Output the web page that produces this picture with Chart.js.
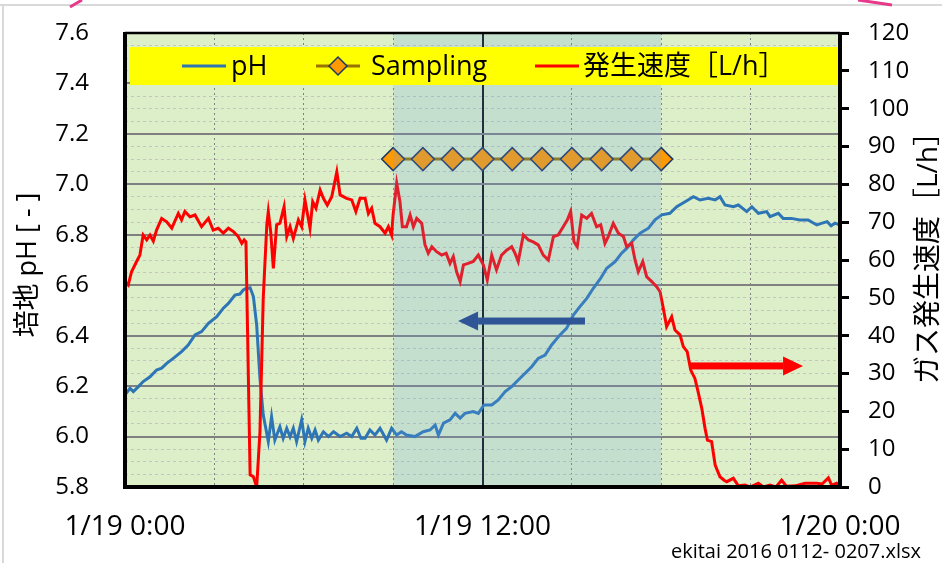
<!DOCTYPE html>
<html>
<head>
<meta charset="utf-8">
<script src="https://cdn.jsdelivr.net/npm/chart.js@4.4.1/dist/chart.umd.min.js"></script>
<style>
  html, body { margin: 0; padding: 0; background: #fff; }
  #wrap { width: 942px; height: 563px; position: relative; }
</style>
</head>
<body>
<div id="wrap"><canvas id="chart"></canvas></div>
<script>
// time axis in hours from 1/19 0:00
const xTickHours = [0, 12, 24];
const xTickLabels = ["1/19 0:00", "1/19 12:00", "1/20 0:00"];

// pH (left axis)
const phHours = [0.00, 0.17, 0.28, 0.45, 0.61, 0.84, 1.06, 1.23, 1.40, 1.62, 1.90, 2.12, 2.35, 2.57, 2.80, 3.08, 3.30, 3.47, 3.69, 3.86, 3.97, 4.03, 4.20, 4.31, 4.42, 4.53, 4.64, 4.81, 4.92, 5.03, 5.20, 5.31, 5.43, 5.54, 5.65, 5.76, 5.93, 6.04, 6.15, 6.27, 6.38, 6.49, 6.66, 6.83, 7.00, 7.22, 7.44, 7.61, 7.78, 7.92, 8.06, 8.22, 8.39, 8.56, 8.78, 8.95, 9.12, 9.28, 9.45, 9.73, 10.01, 10.24, 10.41, 10.52, 10.69, 10.91, 11.08, 11.25, 11.41, 11.69, 11.86, 12.05, 12.31, 12.53, 12.76, 12.98, 13.20, 13.43, 13.65, 13.87, 14.10, 14.32, 14.60, 14.82, 15.05, 15.27, 15.50, 15.72, 15.95, 16.17, 16.45, 16.67, 16.84, 17.06, 17.29, 17.57, 17.79, 18.02, 18.29, 18.52, 18.80, 19.08, 19.30, 19.58, 19.81, 19.97, 20.14, 20.42, 20.59, 20.87, 21.04, 21.26, 21.54, 21.65, 21.93, 22.09, 22.37, 22.65, 22.93, 23.22, 23.40, 23.57, 23.70, 23.83, 23.98];
const phValues = [6.165, 6.191, 6.178, 6.198, 6.218, 6.237, 6.264, 6.271, 6.290, 6.310, 6.337, 6.363, 6.403, 6.416, 6.449, 6.475, 6.509, 6.528, 6.561, 6.565, 6.581, 6.585, 6.590, 6.555, 6.442, 6.231, 6.086, 5.980, 6.079, 5.986, 6.039, 5.993, 6.033, 5.999, 6.033, 5.980, 6.066, 5.980, 6.033, 5.993, 6.026, 5.986, 6.019, 6.000, 6.019, 6.000, 6.013, 6.000, 6.033, 5.993, 5.993, 6.026, 6.006, 6.033, 5.986, 6.033, 6.006, 6.019, 6.006, 6.000, 6.019, 6.026, 6.046, 6.006, 6.053, 6.066, 6.092, 6.073, 6.092, 6.099, 6.092, 6.125, 6.125, 6.145, 6.178, 6.198, 6.224, 6.251, 6.277, 6.310, 6.323, 6.363, 6.403, 6.429, 6.482, 6.515, 6.548, 6.588, 6.625, 6.667, 6.693, 6.727, 6.746, 6.779, 6.806, 6.826, 6.859, 6.879, 6.885, 6.911, 6.931, 6.951, 6.938, 6.945, 6.938, 6.951, 6.918, 6.911, 6.918, 6.892, 6.911, 6.885, 6.892, 6.872, 6.885, 6.865, 6.865, 6.859, 6.859, 6.839, 6.846, 6.852, 6.836, 6.846, 6.839];

// gas generation rate L/h (right axis)
const rateHours = [0.00, 0.11, 0.22, 0.39, 0.50, 0.61, 0.73, 0.84, 0.95, 1.06, 1.23, 1.40, 1.57, 1.79, 1.90, 2.01, 2.18, 2.35, 2.57, 2.80, 2.96, 3.13, 3.30, 3.47, 3.64, 3.80, 3.92, 4.00, 4.06, 4.20, 4.31, 4.42, 4.53, 4.64, 4.76, 4.81, 4.89, 4.98, 5.09, 5.20, 5.34, 5.43, 5.54, 5.65, 5.82, 5.93, 6.04, 6.21, 6.30, 6.41, 6.55, 6.66, 6.79, 6.94, 7.11, 7.22, 7.44, 7.61, 7.75, 7.89, 8.06, 8.17, 8.28, 8.39, 8.56, 8.73, 8.84, 8.95, 9.00, 9.12, 9.23, 9.31, 9.45, 9.57, 9.68, 9.79, 9.96, 10.07, 10.18, 10.30, 10.46, 10.63, 10.78, 10.91, 11.02, 11.13, 11.25, 11.36, 11.52, 11.69, 11.86, 11.97, 12.03, 12.16, 12.31, 12.47, 12.64, 12.81, 12.98, 13.09, 13.20, 13.37, 13.54, 13.70, 13.87, 14.04, 14.21, 14.38, 14.54, 14.71, 14.85, 14.96, 15.07, 15.18, 15.33, 15.50, 15.66, 15.83, 15.97, 16.11, 16.22, 16.39, 16.56, 16.73, 16.84, 17.01, 17.12, 17.23, 17.38, 17.51, 17.68, 17.85, 17.96, 18.07, 18.18, 18.35, 18.46, 18.63, 18.74, 18.87, 18.99, 19.13, 19.24, 19.36, 19.47, 19.55, 19.69, 19.81, 19.97, 20.11, 20.20, 20.42, 20.59, 20.81, 20.98, 21.26, 21.43, 21.65, 21.85, 22.04, 22.20, 22.49, 22.83, 23.22, 23.40, 23.61, 23.72, 23.89, 23.98];
const rateValues = [54.3, 53.4, 56.9, 59.6, 61.3, 66.6, 65.3, 66.6, 65.0, 67.9, 71.0, 70.1, 68.4, 72.3, 70.6, 72.8, 71.4, 71.9, 68.8, 71.0, 67.9, 68.4, 67.1, 68.4, 67.5, 66.2, 64.4, 65.3, 64.8, 3.2, 2.7, 0.0, 14.6, 49.9, 69.3, 72.8, 67.5, 57.8, 69.3, 69.7, 74.1, 66.2, 68.8, 65.7, 70.6, 68.8, 75.9, 68.4, 75.4, 73.7, 78.5, 76.3, 74.5, 76.7, 83.3, 77.2, 76.3, 75.9, 72.8, 76.3, 76.3, 72.3, 73.7, 69.7, 68.8, 67.1, 68.8, 66.6, 71.9, 80.3, 75.4, 68.8, 68.8, 71.9, 68.8, 71.0, 69.7, 64.0, 61.8, 63.5, 62.2, 61.3, 61.8, 59.1, 60.9, 56.9, 54.3, 58.7, 59.1, 59.6, 61.3, 59.6, 58.7, 54.7, 61.3, 57.4, 61.3, 62.6, 63.5, 61.8, 59.6, 66.6, 65.3, 64.8, 64.0, 61.3, 60.0, 66.2, 66.6, 68.8, 70.6, 72.8, 64.8, 63.5, 71.9, 71.0, 72.3, 68.8, 69.3, 64.4, 66.2, 69.7, 67.1, 66.2, 63.5, 64.4, 60.0, 56.9, 59.6, 55.6, 54.3, 52.9, 51.6, 47.2, 42.4, 45.0, 41.5, 40.2, 37.1, 35.8, 30.9, 28.7, 25.1, 20.8, 15.5, 12.4, 12.0, 5.8, 2.7, 1.8, 1.4, 2.3, 0.3, 0.5, 0.0, 1.0, 0.0, 0.5, 0.0, 1.8, 0.2, 0.3, 1.0, 1.0, 0.8, 2.4, 0.5, 1.0, 0.5];

// sampling times (plotted on pH axis)
const samplingHours = [9, 10, 11, 12, 13, 14, 15, 16, 17, 18];
const samplingValues = [7.1, 7.1, 7.1, 7.1, 7.1, 7.1, 7.1, 7.1, 7.1, 7.1];

const seriesLabels = ["pH", "Sampling", "発生速度［L/h］"];

const FONT = "'Open Sans', 'Noto Sans CJK JP', sans-serif";
Chart.defaults.font.family = FONT;
Chart.defaults.color = "#000";

const toPoints = (xs, ys) => xs.map((x, i) => ({ x: x, y: ys[i] }));
const isMajorPh = (v) => Math.round(v * 100) % 20 === 0;

// keep axis label overhang from pushing the plot area around
const fixWidth = (w) => (s) => {
  s.width = w;
  s.paddingTop = 0;
  s.paddingBottom = 0;
};

// background, shading, frame, arrows, legend and titles
const decor = {
  id: "decor",
  beforeDraw(chart) {
    const { ctx, chartArea: a } = chart;
    ctx.save();
    ctx.fillStyle = "#fff";
    ctx.fillRect(0, 0, chart.width, chart.height);
    ctx.strokeStyle = "#d9d9d9";
    ctx.lineWidth = 2;
    ctx.beginPath();
    ctx.moveTo(0, 5); ctx.lineTo(chart.width, 5);
    ctx.moveTo(3, 5); ctx.lineTo(3, chart.height);
    ctx.stroke();
    ctx.strokeStyle = "#e8388a";
    ctx.lineWidth = 3;
    ctx.beginPath();
    ctx.moveTo(70, 7); ctx.lineTo(82, 0);
    ctx.moveTo(858, 0); ctx.lineTo(892, 5);
    ctx.stroke();
    ctx.fillStyle = "#dcefc8";
    ctx.fillRect(a.left, a.top, a.right - a.left, a.bottom - a.top);
    ctx.restore();
  },
  afterDatasetsDraw(chart) {
    const { ctx, chartArea: a, scales } = chart;
    const x = scales.x, y = scales.y, y2 = scales.y2;
    ctx.save();
    // sampling period shading
    const sx0 = x.getPixelForValue(samplingHours[0]);
    const sx1 = x.getPixelForValue(samplingHours[samplingHours.length - 1]);
    ctx.fillStyle = "rgba(100,160,225,0.2)";
    ctx.fillRect(sx0, a.top, sx1 - sx0, a.bottom - a.top);

    // plot frame
    ctx.strokeStyle = "#000";
    ctx.lineWidth = 2.5;
    ctx.beginPath();
    ctx.moveTo(a.left, a.top); ctx.lineTo(a.right, a.top);
    ctx.stroke();
    ctx.lineWidth = 4;
    ctx.beginPath();
    ctx.moveTo(a.left, a.top - 1); ctx.lineTo(a.left, a.bottom + 2);
    ctx.moveTo(a.left - 2, a.bottom); ctx.lineTo(a.right + 2, a.bottom);
    ctx.moveTo(a.right, a.top - 1); ctx.lineTo(a.right, a.bottom + 2);
    ctx.stroke();

    // arrows pointing to each axis
    const arrow = (xFrom, xTo, yy, color) => {
      const dir = Math.sign(xTo - xFrom);
      const head = 20, half = 9.5;
      ctx.fillStyle = color;
      ctx.fillRect(Math.min(xFrom, xTo - dir * head), yy - 3.5, Math.abs(xTo - dir * head - xFrom), 7);
      ctx.beginPath();
      ctx.moveTo(xTo, yy);
      ctx.lineTo(xTo - dir * head, yy - half);
      ctx.lineTo(xTo - dir * head, yy + half);
      ctx.closePath();
      ctx.fill();
    };
    arrow(x.getPixelForValue(15.44), x.getPixelForValue(11.18), y.getPixelForValue(6.458), "#2f5597");
    arrow(x.getPixelForValue(18.97), x.getPixelForValue(22.76), y2.getPixelForValue(32), "#ff0000");
    ctx.restore();
  },
  afterDraw(chart) {
    const { ctx } = chart;
    const ds = chart.data.datasets;
    ctx.save();
    // legend
    ctx.fillStyle = "#ffff00";
    ctx.fillRect(130, 47, 708, 38);
    const ly = 66;
    const items = [
      { x: 182, tx: 231, ds: ds[0] },
      { x: 316, tx: 371, ds: ds[1], marker: true },
      { x: 535, tx: 583, ds: ds[2] },
    ];
    ctx.font = "27px " + FONT;
    ctx.textBaseline = "middle";
    ctx.textAlign = "left";
    items.forEach((it) => {
      ctx.strokeStyle = it.ds.borderColor;
      ctx.lineWidth = 3;
      ctx.beginPath();
      ctx.moveTo(it.x, ly); ctx.lineTo(it.x + 44, ly);
      ctx.stroke();
      if (it.marker) {
        const cx = it.x + 22, r = 9;
        ctx.fillStyle = it.ds.pointBackgroundColor;
        ctx.strokeStyle = it.ds.pointBorderColor;
        ctx.lineWidth = 1.5;
        ctx.beginPath();
        ctx.moveTo(cx - r, ly); ctx.lineTo(cx, ly - r); ctx.lineTo(cx + r, ly); ctx.lineTo(cx, ly + r);
        ctx.closePath();
        ctx.fill(); ctx.stroke();
      }
      ctx.fillStyle = "#000";
      ctx.fillText(it.ds.label, it.tx, ly + 1);
    });

    // axis titles
    ctx.textAlign = "center";
    ctx.font = "27px " + FONT;
    ctx.save();
    ctx.translate(28, 265);
    ctx.rotate(-Math.PI / 2);
    ctx.fillText("培地 pH [ - ]", 0, 0);
    ctx.restore();
    ctx.font = "28px " + FONT;
    ctx.save();
    ctx.translate(929, 251);
    ctx.rotate(-Math.PI / 2);
    ctx.fillText("ガス発生速度［L/h］", 0, 0);
    ctx.restore();

    // file name
    ctx.font = "20px " + FONT;
    ctx.textAlign = "right";
    ctx.textBaseline = "alphabetic";
    ctx.fillText("ekitai 2016 0112- 0207.xlsx", 921, 558);
    ctx.restore();
  },
};

new Chart(document.getElementById("chart"), {
  type: "line",
  data: {
    datasets: [
      {
        label: seriesLabels[0],
        data: toPoints(phHours, phValues),
        yAxisID: "y",
        borderColor: "#2e75b6",
        borderWidth: 3,
        pointRadius: 0,
        order: 2,
      },
      {
        label: seriesLabels[1],
        data: toPoints(samplingHours, samplingValues),
        yAxisID: "y",
        borderColor: "#997300",
        borderWidth: 3,
        pointStyle: "rectRot",
        pointRadius: 11.5,
        pointBackgroundColor: "#ff9900",
        pointBorderColor: "#203864",
        pointBorderWidth: 1.5,
        order: 0,
      },
      {
        label: seriesLabels[2],
        data: toPoints(rateHours, rateValues),
        yAxisID: "y2",
        borderColor: "#ff0000",
        borderWidth: 3,
        pointRadius: 0,
        order: 1,
      },
    ],
  },
  options: {
    responsive: true,
    maintainAspectRatio: false,
    animation: false,
    layout: { padding: { top: 33, left: 0, right: 0, bottom: 0 } },
    plugins: { legend: { display: false }, tooltip: { enabled: false } },
    scales: {
      x: {
        type: "linear",
        min: 0,
        max: 24,
        afterFit: (s) => { s.height = 76; },
        ticks: {
          stepSize: 3,
          autoSkip: false,
          maxRotation: 0,
          padding: 23,
          font: { size: 28 },
          callback: (v) => {
            const i = xTickHours.indexOf(v);
            return i >= 0 ? xTickLabels[i] : "";
          },
        },
        grid: {
          drawTicks: false,
          color: (c) => (c.tick && c.tick.value === 12 ? "#111" : "#808080"),
          lineWidth: (c) => (c.tick && c.tick.value === 12 ? 2 : 1),
        },
        border: {
          display: false,
          dash: (c) => (c.tick && c.tick.value === 12 ? [] : [2, 3]),
        },
      },
      y: {
        position: "left",
        min: 5.8,
        max: 7.6,
        afterFit: fixWidth(125),
        ticks: {
          stepSize: 0.05,
          autoSkip: false,
          padding: 36,
          font: { size: 24 },
          callback: (v) => (isMajorPh(v) ? v.toFixed(1) : ""),
        },
        grid: {
          drawTicks: false,
          color: (c) => (c.tick && isMajorPh(c.tick.value) ? "#808080" : "#c4c4c4"),
          lineWidth: (c) => (c.tick && isMajorPh(c.tick.value) ? 2 : 1),
        },
        border: {
          display: false,
          dash: (c) => (c.tick && isMajorPh(c.tick.value) ? [] : [3, 3]),
        },
      },
      y2: {
        position: "right",
        min: 0,
        max: 120,
        afterFit: fixWidth(102),
        ticks: { stepSize: 10, padding: 19, font: { size: 24 } },
        grid: {
          drawOnChartArea: false,
          drawTicks: true,
          tickLength: 9,
          color: "#000",
          lineWidth: 3,
        },
        border: { display: false },
      },
    },
  },
  plugins: [decor],
});
</script>
</body>
</html>
